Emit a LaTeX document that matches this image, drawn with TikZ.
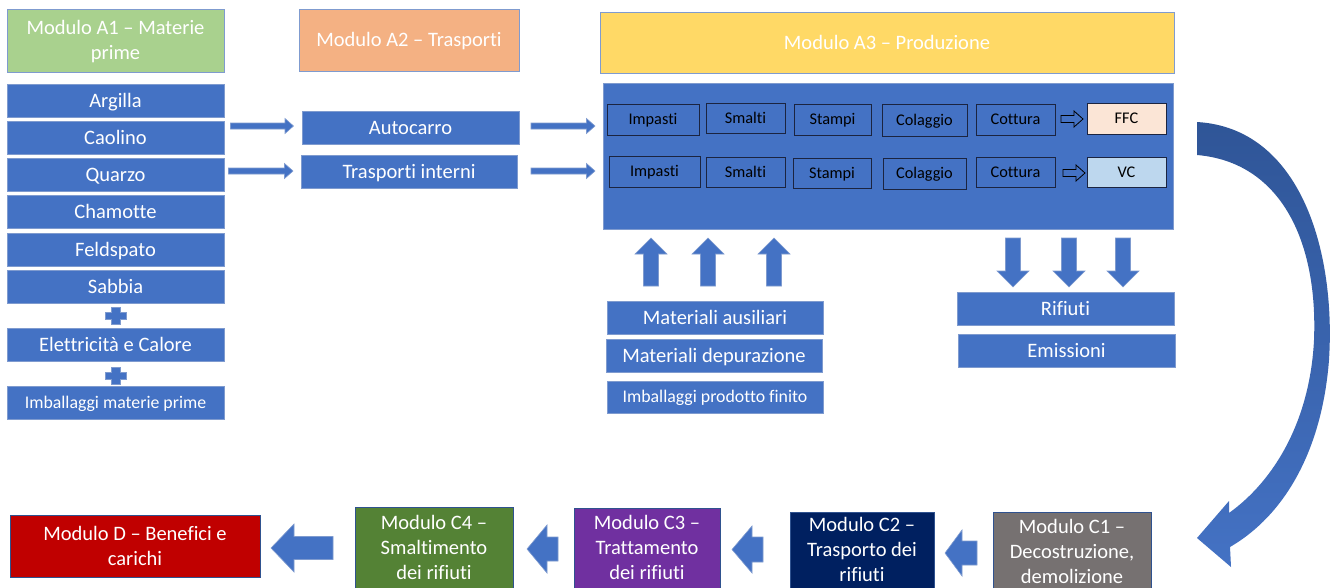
\documentclass[tikz,border=0pt]{standalone}
\usepackage{fontspec}
\setmainfont{Carlito}[Ligatures={NoCommon}]
\definecolor{fillblue}{HTML}{4472C4}
\definecolor{edgeblue}{HTML}{7F9BCF}
\definecolor{darkedge}{HTML}{2F528F}
\definecolor{inneredge}{HTML}{1B2440}
\definecolor{aone}{HTML}{A9D18E}
\definecolor{atwo}{HTML}{F4B183}
\definecolor{athree}{HTML}{FFD966}
\definecolor{ffccol}{HTML}{FBE5D6}
\definecolor{vccol}{HTML}{BDD7EE}
\definecolor{dred}{HTML}{C00000}
\definecolor{cfour}{HTML}{548235}
\definecolor{cthree}{HTML}{7030A0}
\definecolor{ctwo}{HTML}{002060}
\definecolor{cone}{HTML}{767171}
\definecolor{curvetop}{HTML}{2F5597}
% horizontal block arrow: style, x tail, x tip, y centre, shaft half, head half, signed head length
\newcommand\myharr[7]{\path[#1] ({#2},{#4-#5}) -- ({#3-(#7)},{#4-#5}) -- ({#3-(#7)},{#4-#6}) -- ({#3},{#4}) -- ({#3-(#7)},{#4+#6}) -- ({#3-(#7)},{#4+#5}) -- ({#2},{#4+#5}) -- cycle;}
% vertical block arrow: style, x centre, y tail, y tip, shaft half, head half, signed head length
\newcommand\myvarr[7]{\path[#1] ({#2-#5},{#3}) -- ({#2-#5},{#4-(#7)}) -- ({#2-#6},{#4-(#7)}) -- ({#2},{#4}) -- ({#2+#6},{#4-(#7)}) -- ({#2+#5},{#4-(#7)}) -- ({#2+#5},{#3}) -- cycle;}
% plus sign
\newcommand\myplus[2]{\path[blockarrow] ({#1-4.5},{#2-8.5}) -- ({#1+4.5},{#2-8.5}) -- ({#1+4.5},{#2-3.5}) -- ({#1+10.5},{#2-3.5}) -- ({#1+10.5},{#2+3.5}) -- ({#1+4.5},{#2+3.5}) -- ({#1+4.5},{#2+8.5}) -- ({#1-4.5},{#2+8.5}) -- ({#1-4.5},{#2+3.5}) -- ({#1-10.5},{#2+3.5}) -- ({#1-10.5},{#2-3.5}) -- ({#1-4.5},{#2-3.5}) -- cycle;}
\tikzset{
  base/.style={inner sep=0pt, align=center, text=white, line width=0.7pt},
  big/.style={font=\fontsize{20.5}{25}\selectfont, text depth=0pt},
  one/.style={text height=13.2pt},
  two/.style={text height=38.2pt},
  three/.style={text height=63.2pt},
  bluebox/.style={base, big, one, fill=fillblue, draw=edgeblue},
  smallbox/.style={base, font=\fontsize{17.8}{22}\selectfont, text height=11.5pt, text depth=0pt, fill=fillblue, draw=edgeblue},
  innerbox/.style={inner sep=0pt, fill=fillblue, draw=inneredge, line width=1pt, text=black, font=\fontsize{16.3}{20}\selectfont, text height=10.5pt, text depth=0pt},
  modbox/.style={base, big, draw=edgeblue},
  cbox/.style={base, big, three, draw=darkedge},
  blockarrow/.style={fill=fillblue, draw=edgeblue, line width=0.6pt},
  hollowarrow/.style={fill=fillblue, draw=black, line width=0.8pt},
}
\begin{document}
\begin{tikzpicture}[x=1pt, y=-1pt]
\fill[white] (0,0) rectangle (1331,587);
\useasboundingbox (0,0) rectangle (1331,587);

% module headers
\node[modbox, two, fill=aone, minimum width=217pt, minimum height=63pt] (a1) at (115.5,40.5) {Modulo A1 – Materie\\prime};
\node[modbox, one, fill=atwo, minimum width=220pt, minimum height=62pt] (a2) at (409,40) {Modulo A2 – Trasporti};
\node[modbox, one, fill=athree, minimum width=574pt, minimum height=61pt] (a3) at (887,42.5) {Modulo A3 – Produzione};

% A1 materials
\node[bluebox, minimum width=217pt, minimum height=33pt] (argilla) at (115.5,100.5) {Argilla};
\node[bluebox, minimum width=217pt, minimum height=33pt] (caolino) at (115.5,137.5) {Caolino};
\node[bluebox, minimum width=217pt, minimum height=33pt] (quarzo) at (115.5,174.5) {Quarzo};
\node[bluebox, minimum width=217pt, minimum height=33pt] (chamotte) at (115.5,211.5) {Chamotte};
\node[bluebox, minimum width=217pt, minimum height=33pt] (feldspato) at (115.5,249.5) {Feldspato};
\node[bluebox, minimum width=217pt, minimum height=33pt] (sabbia) at (115.5,286.5) {Sabbia};
\node[bluebox, minimum width=217pt, minimum height=33pt] (elettr) at (115.5,344.5) {Elettricità e Calore};
\node[smallbox, minimum width=217pt, minimum height=33pt] (imbmp) at (115.5,402.5) {Imballaggi materie prime};
\myplus{116}{316}
\myplus{116}{375.5}

% A2 transports
\node[bluebox, minimum width=217pt, minimum height=33pt] (autocarro) at (410.5,127.5) {Autocarro};
\node[bluebox, minimum width=216pt, minimum height=33pt] (trint) at (409,171.5) {Trasporti interni};

\myharr{blockarrow}{230.5}{293.5}{126}{3}{7.5}{8.5}
\myharr{blockarrow}{228.5}{293}{171}{3}{7.5}{8.5}
\myharr{blockarrow}{531}{595}{126}{3}{7.5}{8.5}
\myharr{blockarrow}{531}{595}{171}{3}{7.5}{8.5}

% A3 production panel
\node[base, fill=fillblue, draw=edgeblue, minimum width=570pt, minimum height=146pt] (panel) at (888,156) {};
\node[innerbox, minimum width=92pt, minimum height=31pt] (imp1) at (653,119.5) {Impasti};
\node[innerbox, minimum width=79pt, minimum height=30pt] (sma1) at (745.5,118) {Smalti};
\node[innerbox, minimum width=77pt, minimum height=31pt] (sta1) at (832.5,119.5) {Stampi};
\node[innerbox, minimum width=85pt, minimum height=32pt] (col1) at (924.5,120) {Colaggio};
\node[innerbox, minimum width=79pt, minimum height=31pt] (cot1) at (1015.5,119.5) {Cottura};
\node[innerbox, fill=ffccol, minimum width=79pt, minimum height=31pt] (ffc) at (1126.5,118.5) {FFC};
\node[innerbox, minimum width=91pt, minimum height=31pt] (imp2) at (654.5,171.5) {Impasti};
\node[innerbox, minimum width=79pt, minimum height=30pt] (sma2) at (745.5,172) {Smalti};
\node[innerbox, minimum width=78pt, minimum height=30pt] (sta2) at (832,173) {Stampi};
\node[innerbox, minimum width=83pt, minimum height=31pt] (col2) at (924.5,173.5) {Colaggio};
\node[innerbox, minimum width=79pt, minimum height=30pt] (cot2) at (1015.5,172) {Cottura};
\node[innerbox, fill=vccol, minimum width=79pt, minimum height=30pt] (vc) at (1126.5,172) {VC};
\myharr{hollowarrow}{1061}{1083}{119}{3.5}{8}{9}
\myharr{hollowarrow}{1063}{1085}{173}{3.5}{8}{9}

% inputs
\myvarr{blockarrow}{651}{286}{238}{7.5}{16}{-16}
\myvarr{blockarrow}{708}{286}{238}{7.5}{16}{-16}
\myvarr{blockarrow}{774}{286}{238}{7.5}{16}{-16}
\node[bluebox, minimum width=216pt, minimum height=33pt] (ausil) at (715,317.5) {Materiali ausiliari};
\node[bluebox, minimum width=216pt, minimum height=33pt] (depur) at (714,355.5) {Materiali depurazione};
\node[smallbox, minimum width=216pt, minimum height=32pt] (imbpf) at (715,397) {Imballaggi prodotto finito};

% outputs
\myvarr{blockarrow}{1013}{238}{287}{7.5}{16}{16}
\myvarr{blockarrow}{1069}{238}{287}{7.5}{16}{16}
\myvarr{blockarrow}{1123}{238}{287}{7.5}{16}{16}
\node[bluebox, minimum width=217pt, minimum height=33pt] (rifiuti) at (1065.5,308.5) {Rifiuti};
\node[bluebox, minimum width=217pt, minimum height=33pt] (emiss) at (1066.5,350.5) {Emissioni};

% curved arrow to end-of-life
\shade[top color=curvetop, bottom color=fillblue]
  (1197,122) .. controls (1300,128) and (1336,250) .. (1329,360)
  .. controls (1322,450) and (1285,515) .. (1230,547)
  -- (1231,567) -- (1197,538) -- (1229,501) -- (1229,513)
  .. controls (1275,480) and (1310,420) .. (1314,340)
  .. controls (1318,240) and (1280,162) .. (1197,155) -- cycle;

% end of life modules
\node[cbox, fill=cone, minimum width=158pt, minimum height=80pt] (c1) at (1072,552) {Modulo C1 –\\Decostruzione,\\demolizione};
\node[cbox, fill=ctwo, minimum width=144pt, minimum height=76pt] (c2) at (862,550) {Modulo C2 –\\Trasporto dei\\rifiuti};
\node[cbox, fill=cthree, minimum width=146pt, minimum height=80pt] (c3) at (647,548) {Modulo C3 –\\Trattamento\\dei rifiuti};
\node[cbox, fill=cfour, minimum width=158pt, minimum height=82pt] (c4) at (434,548) {Modulo C4 –\\Smaltimento\\dei rifiuti};
\node[base, big, two, fill=dred, draw=darkedge, minimum width=250pt, minimum height=62pt] (modd) at (135,546) {Modulo D – Benefici e\\carichi};

\myharr{blockarrow}{977}{945}{553}{12}{23}{-17}
\myharr{blockarrow}{763}{732}{549.5}{12.5}{23.5}{-20}
\myharr{blockarrow}{558}{527}{549}{12}{24}{-20}
\myharr{blockarrow}{333}{271}{548}{11.5}{24}{-23}
\end{tikzpicture}
\end{document}
